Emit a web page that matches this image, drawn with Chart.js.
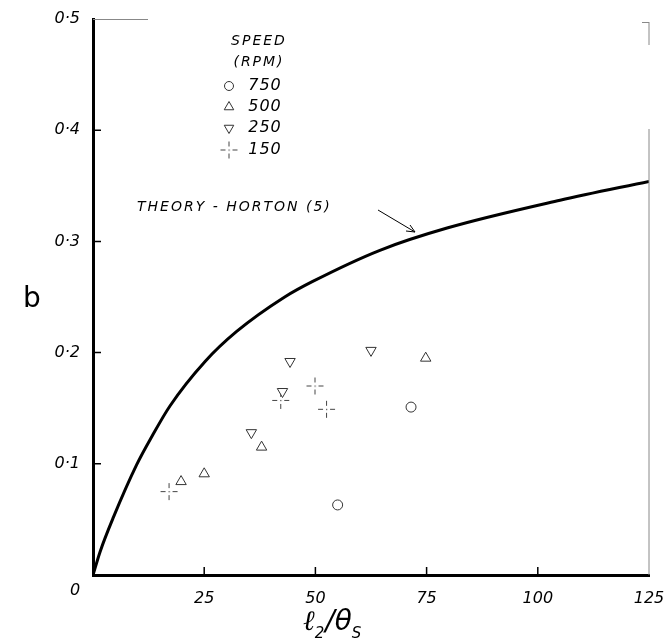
<!DOCTYPE html>
<html>
<head>
<meta charset="utf-8">
<script src="https://cdn.jsdelivr.net/npm/chart.js@4.4.1/dist/chart.umd.min.js"></script>
<style>
    body { margin: 0; background: #fff; }
    #box { width: 665px; height: 639px; }
</style>
</head>
<body>
<div id="box"><canvas id="bChart"></canvas></div>
<script>
// 1. Data
const theoryX = [0, 1.6, 4.6, 9.8, 13.3, 17.3, 25.2, 32.3, 43.1, 49.4, 64.5, 79.6, 105, 125];
const theoryY = [0, 0.021, 0.052, 0.099, 0.125, 0.152, 0.192, 0.219, 0.250, 0.264, 0.292, 0.312, 0.337, 0.354];

const rpm750X = [55.0, 71.5];
const rpm750Y = [0.063, 0.151];
const rpm500X = [19.8, 25.0, 37.9, 74.8];
const rpm500Y = [0.084, 0.091, 0.115, 0.195];
const rpm250X = [35.6, 42.6, 44.3, 62.5];
const rpm250Y = [0.128, 0.165, 0.192, 0.202];
const rpm150X = [17.1, 42.2, 49.9, 52.5];
const rpm150Y = [0.075, 0.157, 0.170, 0.149];

const speedLabels = ['750', '500', '250', '150'];
const xTicks = [0, 25, 50, 75, 100, 125];
const yTicks = [0, 0.1, 0.2, 0.3, 0.4, 0.5];

const pts = (xs, ys) => xs.map((x, i) => ({ x: x, y: ys[i] }));

// 2. Dashed cross marker (drawn once on a small canvas)
function makeDashCross() {
    const c = document.createElement('canvas');
    c.width = 19; c.height = 19;
    const g = c.getContext('2d');
    g.strokeStyle = '#444';
    g.lineWidth = 1;
    g.beginPath();
    g.moveTo(1, 9.5); g.lineTo(6, 9.5);
    g.moveTo(13, 9.5); g.lineTo(18, 9.5);
    g.moveTo(9.5, 1); g.lineTo(9.5, 6);
    g.moveTo(9.5, 13); g.lineTo(9.5, 18);
    g.stroke();
    g.fillStyle = '#444';
    g.fillRect(9, 9, 1.2, 1.2);
    return c;
}
const dashCross = makeDashCross();

const tickFont = { family: 'DejaVu Sans', style: 'italic', size: 16 };

// 3. Marker styles per speed
const markerStyles = [
    { pointStyle: 'circle', pointRadius: 5, rotation: 0 },
    { pointStyle: 'triangle', pointRadius: 6, rotation: 0 },
    { pointStyle: 'triangle', pointRadius: 6, rotation: 180 },
    { pointStyle: dashCross, pointRadius: 9, rotation: 0 }
];

// 4. Extra drawing: inner ticks, frame, labels, legend, annotation
const decorPlugin = {
    id: 'decor',
    afterDraw(chart) {
        const ctx = chart.ctx;
        const a = chart.chartArea;
        const xs = chart.scales.x, ys = chart.scales.y;
        ctx.save();

        // 4.1 inner ticks
        ctx.strokeStyle = '#000';
        ctx.lineWidth = 1.5;
        ctx.beginPath();
        yTicks.slice(1, -1).forEach(v => {
            const y = ys.getPixelForValue(v);
            ctx.moveTo(a.left, y); ctx.lineTo(a.left + 8, y);
        });
        xTicks.slice(1, -1).forEach(v => {
            const x = xs.getPixelForValue(v);
            ctx.moveTo(x, a.bottom); ctx.lineTo(x, a.bottom - 8);
        });
        ctx.stroke();

        // 4.2 faint top/right frame pieces
        ctx.strokeStyle = '#888';
        ctx.lineWidth = 1;
        ctx.beginPath();
        ctx.moveTo(a.left, a.top + 0.5); ctx.lineTo(a.left + 55, a.top + 0.5);
        ctx.moveTo(a.right - 7, a.top + 3.5); ctx.lineTo(a.right, a.top + 3.5);
        ctx.moveTo(a.right, a.top + 3); ctx.lineTo(a.right, a.top + 26);
        ctx.moveTo(a.right, a.top + 110); ctx.lineTo(a.right, a.bottom);
        ctx.stroke();

        // 4.3 origin label and axis titles
        ctx.fillStyle = '#000';
        ctx.font = 'italic 16px "DejaVu Sans"';
        ctx.textAlign = 'center';
        ctx.textBaseline = 'middle';
        ctx.fillText('0', a.left - 18, a.bottom + 16);

        ctx.font = '28px "DejaVu Sans"';
        ctx.fillText('b', 32, 300);

        ctx.textAlign = 'left';
        ctx.textBaseline = 'alphabetic';
        ctx.font = 'italic 28px "DejaVu Serif"';
        let tx = 303;
        ctx.fillText('ℓ', tx, 630); tx += ctx.measureText('ℓ').width;
        ctx.font = 'italic 15px "DejaVu Sans"';
        ctx.fillText('2', tx, 638); tx += ctx.measureText('2').width + 1;
        ctx.font = 'italic 28px "DejaVu Sans"';
        ctx.fillText('/θ', tx, 630); tx += ctx.measureText('/θ').width;
        ctx.font = 'italic 15px "DejaVu Sans"';
        ctx.fillText('S', tx, 638);

        // 4.4 legend
        ctx.textAlign = 'center';
        ctx.textBaseline = 'middle';
        ctx.font = 'italic 14px "DejaVu Sans"';
        ctx.letterSpacing = '2px';
        ctx.fillText('SPEED', 259, 41);
        ctx.fillText('(RPM)', 259, 62);
        ctx.font = 'italic 16px "DejaVu Sans"';
        ctx.letterSpacing = '1px';
        const rowY = [86, 107, 128, 150];
        speedLabels.forEach((s, i) => {
            ctx.fillText(s, 265, rowY[i]);
            const m = markerStyles[i];
            ctx.strokeStyle = '#333';
            ctx.fillStyle = '#fff';
            ctx.lineWidth = 1;
            Chart.helpers.drawPoint(ctx, {
                pointStyle: m.pointStyle, radius: m.pointRadius - 0.5,
                rotation: m.rotation, borderWidth: 1
            }, 229, rowY[i]);
            ctx.fillStyle = '#000';
        });

        // 4.5 theory annotation with arrow
        ctx.textAlign = 'left';
        ctx.font = 'italic 14px "DejaVu Sans"';
        ctx.letterSpacing = '2px';
        ctx.fillText('THEORY - HORTON (5)', 137, 207);
        ctx.letterSpacing = '0px';
        ctx.strokeStyle = '#000';
        ctx.lineWidth = 1;
        ctx.beginPath();
        ctx.moveTo(378, 210); ctx.lineTo(415, 232);
        ctx.moveTo(415, 232); ctx.lineTo(406, 231);
        ctx.moveTo(415, 232); ctx.lineTo(410, 225);
        ctx.stroke();

        ctx.restore();
    }
};

// 5. Build chart
const scatterSets = [
    pts(rpm750X, rpm750Y), pts(rpm500X, rpm500Y),
    pts(rpm250X, rpm250Y), pts(rpm150X, rpm150Y)
].map((d, i) => ({
    data: d,
    showLine: false,
    pointStyle: markerStyles[i].pointStyle,
    pointRadius: markerStyles[i].pointRadius,
    rotation: markerStyles[i].rotation,
    pointBackgroundColor: '#fff',
    pointBorderColor: '#333',
    pointBorderWidth: 1
}));

new Chart(document.getElementById('bChart'), {
    type: 'scatter',
    data: {
        datasets: [{
            data: pts(theoryX, theoryY),
            showLine: true,
            borderColor: '#000',
            borderWidth: 3,
            pointRadius: 0,
            cubicInterpolationMode: 'monotone'
        }].concat(scatterSets)
    },
    options: {
        responsive: true,
        maintainAspectRatio: false,
        animation: false,
        layout: { padding: { top: 19, right: 0, left: 0, bottom: 0 } },
        plugins: { legend: { display: false }, tooltip: { enabled: false } },
        scales: {
            x: {
                type: 'linear', min: 0, max: 125,
                afterFit: s => { s.height = 64; s.paddingRight = 16; },
                afterBuildTicks: s => { s.ticks = xTicks.map(v => ({ value: v })); },
                grid: { display: false },
                border: { display: true, color: '#000', width: 3 },
                ticks: {
                    color: '#000', font: tickFont, padding: 6,
                    callback: v => v === 0 ? '' : String(v)
                }
            },
            y: {
                type: 'linear', min: 0, max: 0.5,
                afterFit: s => { s.width = 93; },
                afterBuildTicks: s => { s.ticks = yTicks.map(v => ({ value: v })); },
                grid: { display: false },
                border: { display: true, color: '#000', width: 3 },
                ticks: {
                    color: '#000', font: tickFont, padding: 5,
                    callback: v => v === 0 ? '' : '0·' + Math.round(v * 10)
                }
            }
        }
    },
    plugins: [decorPlugin]
});
</script>
</body>
</html>
